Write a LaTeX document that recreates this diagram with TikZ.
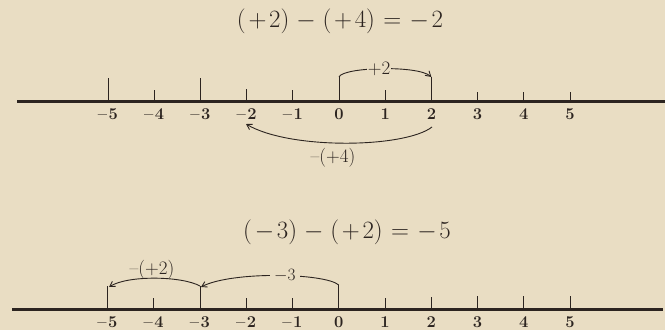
\documentclass[tikz,border=0pt]{standalone}
\usetikzlibrary{arrows.meta}
\definecolor{paper}{RGB}{233,221,195}
\definecolor{ink}{RGB}{44,36,32}
\newcommand\ticktext[1]{\ifnum#1<0 --\kern1.5pt\number-#1\else#1\fi}
\begin{document}
\begin{tikzpicture}[x=1pt,y=-1pt,
  axis/.style={line width=3pt, ink},
  tickmark/.style={line width=1pt, ink},
  numlabel/.style={font=\fontsize{16.5}{18}\selectfont\bfseries, text=ink, inner sep=0pt},
  arclabel/.style={font=\fontsize{19}{21}\selectfont, text=ink, inner sep=1pt},
  titletext/.style={font=\fontsize{24}{28}\selectfont, text=ink, inner sep=0pt},
  jump/.style={line width=0.9pt, draw=ink, -{Straight Barb[length=5pt,width=6pt]}}]
\useasboundingbox (0,0) rectangle (665,330);
\fill[paper] (0,0) rectangle (665,330);

% titles
\node[titletext] (title1) at (340,21) {$(\mkern2mu{+}\mkern2mu2)\mkern1mu-\mkern1mu(\mkern2mu{+}\mkern2mu4)\mkern1mu=\mkern1mu-\mkern2mu2$};
\node[titletext] (title2) at (347,232) {$(\mkern2mu{-}\mkern2mu3)\mkern1mu-\mkern1mu(\mkern2mu{+}\mkern2mu2)\mkern1mu=\mkern1mu-\mkern2mu5$};

% top number line
\draw[axis] (17,101.5) coordinate (ta) -- (665,101.5) coordinate (tb);
\foreach \k/\t in {0/78,1/90,2/78,3/89,4/90,5/77,6/90,7/77,8/92,9/92,10/92}{
  \pgfmathsetmacro\xx{108+46.2*\k}
  \pgfmathtruncatemacro\vv{\k-5}
  \draw[tickmark] (\xx,101.5) coordinate (tb\k) -- (\xx,\t) coordinate (tt\k);
  \node[numlabel] (ua\k) at (\xx,114.5) {\ticktext{\vv}};
}

% bottom number line
\draw[axis] (12,309.5) coordinate (ba) -- (663,309.5) coordinate (bb);
\foreach \k/\t in {0/286,1/298,2/286,3/298,4/298,5/285,6/298,7/297,8/296,9/296,10/296}{
  \pgfmathsetmacro\xx{107.5+46.25*\k}
  \pgfmathtruncatemacro\vv{\k-5}
  \draw[tickmark] (\xx,309.5) coordinate (bbt\k) -- (\xx,\t) coordinate (bt\k);
  \node[numlabel] (la\k) at (\xx,322) {\ticktext{\vv}};
}

% arcs, top
\draw[jump] (tt5) .. controls (343,67) and (418,65) .. (tt7)
  node[arclabel, pos=0.48, fill=paper] (lp2) {+2};
\coordinate (s2) at (432,127);
\coordinate (e2) at (246,124);
\draw[jump] (s2) .. controls (405,148) and (290,150) .. (e2);
\node[arclabel] (lm4) at (333,158) {--(+4)};

% arcs, bottom
\coordinate (e3) at (201,287);
\draw[jump] (bt5) .. controls (325,273) and (232,271) .. (e3)
  node[arclabel, pos=0.45, fill=paper, inner xsep=4pt] (lm3) {$-3$};
\coordinate (e5) at (109,287);
\draw[jump] (bt2) .. controls (182,276) and (128,275) .. (e5);
\node[arclabel] (lmp2) at (152,270) {--(+2)};
\end{tikzpicture}
\end{document}
